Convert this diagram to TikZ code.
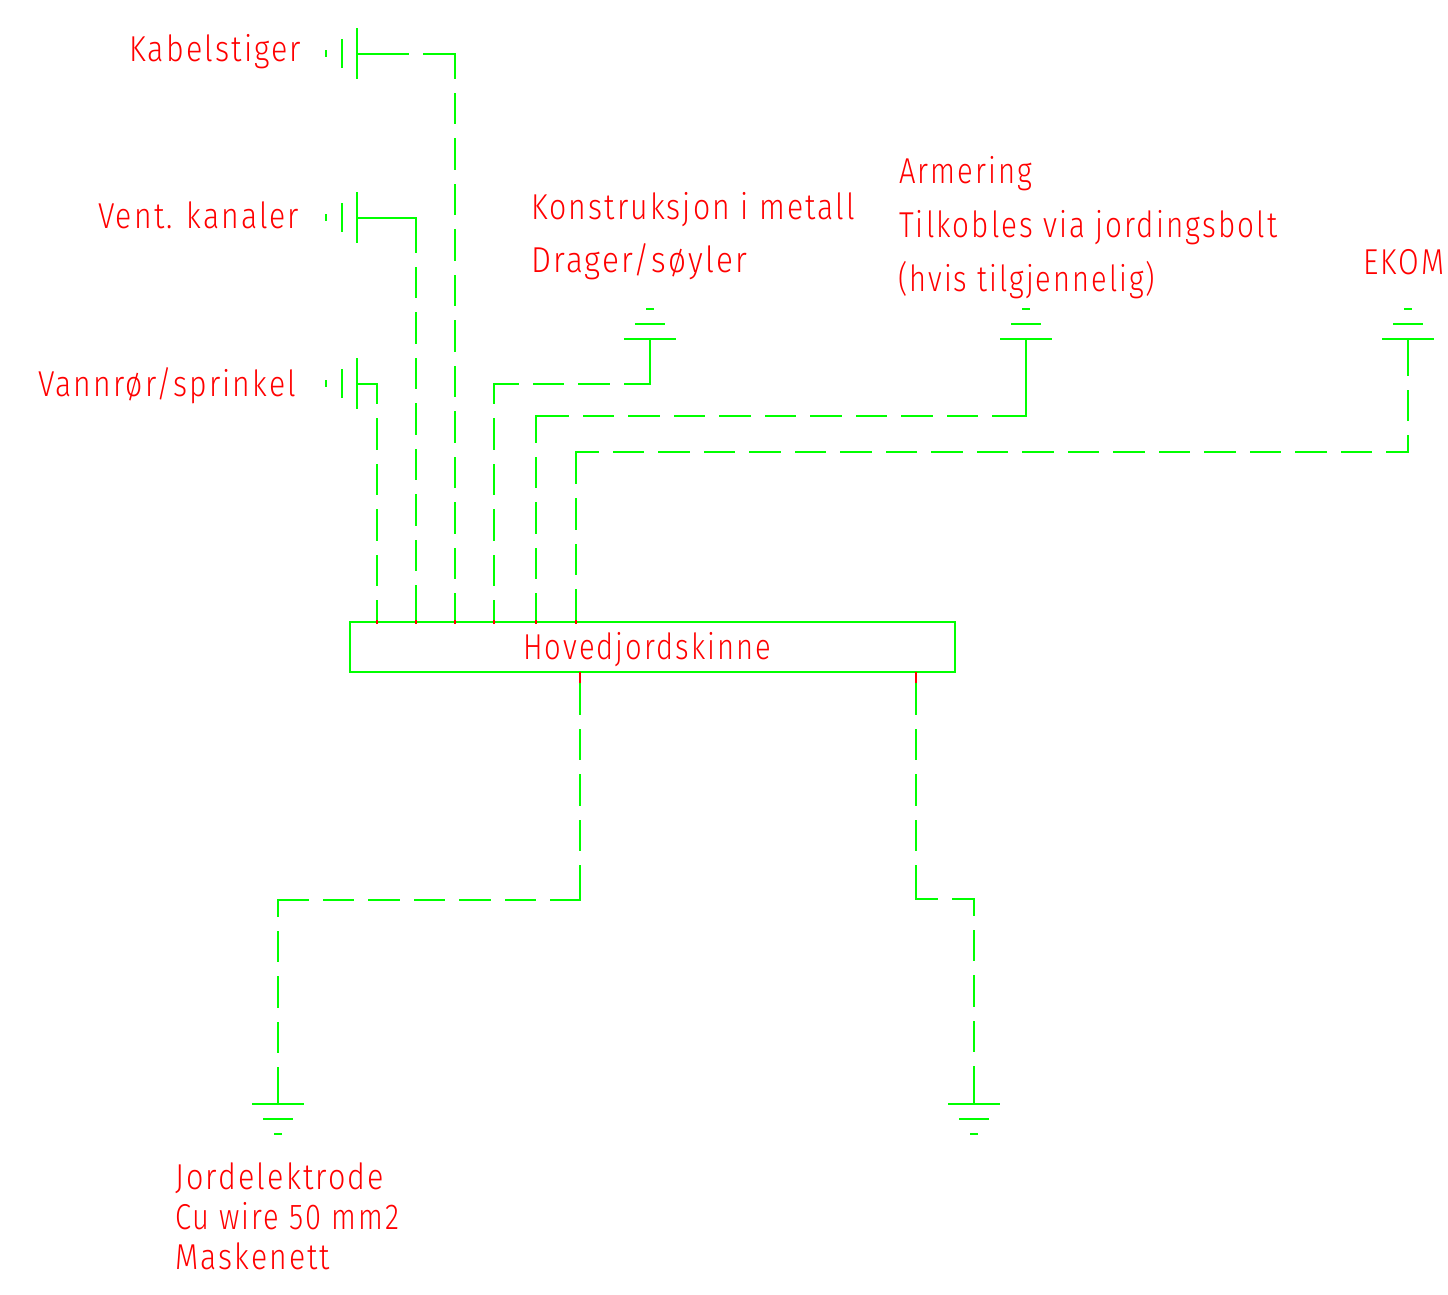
\documentclass[tikz,border=0pt]{standalone}
\usepackage{graphicx}
\usepackage{fontspec}
\setmainfont[LetterSpace=7]{Fira Sans Light}
\definecolor{cadgreen}{RGB}{0,255,0}
\definecolor{cadred}{RGB}{255,0,0}
\newcount\segn
\newcommand\seg[4]{%
  \edef\pat{on \the\dimexpr #3pt-1.25pt\relax\space off 16pt}%
  \segn=#4\relax
  \loop\ifnum\segn>0
    \edef\pat{\pat\space on 29.5pt off 16pt}%
    \advance\segn by -1
  \repeat
  \edef\pat{\pat\space on 1200pt off 1pt}%
  \edef\segcmd{\noexpand\draw[wire,dash pattern={\pat}] (#1) -- (#2);}%
  \segcmd}
\newsavebox\fitbox
\newcommand\fit[2]{\sbox\fitbox{#2}\pgfmathsetmacro\fitr{#1/\the\wd\fitbox}\scalebox{\fitr}[1]{\usebox\fitbox}}
\tikzset{
  wire/.style={draw=cadgreen,line width=2.4pt,line cap=rect},
  solidwire/.style={draw=cadgreen,line width=2.4pt,line cap=rect,line join=miter},
  sym/.style={draw=cadgreen,line width=2.4pt},
  redtick/.style={draw=cadred,line width=2.4pt},
  lbl/.style={text=cadred,inner sep=0pt,anchor=base west,font=\fontsize{36}{40}\selectfont},
  busbar/.style={draw=cadgreen,line width=2.4pt,minimum width=605pt,minimum height=50pt,inner sep=0pt}
}
\newcommand\hsym[2]{% left-hand terminal, bar at x=357, centre y=#2
  \coordinate (#1) at (357,#2);
  \draw[sym] (357,#2-26) -- (357,#2+25);
  \draw[sym] (342,#2-15) -- (342,#2+14);
  \draw[sym] (326,#2-4) -- (326,#2+3);}
\newcommand\upsym[2]{% ground pointing up, bar at y=339
  \coordinate (#1) at (#2,339);
  \draw[sym] (#2-26,339) -- (#2+26,339);
  \draw[sym] (#2-15,324) -- (#2+15,324);
  \draw[sym] (#2-4,309) -- (#2+4,309);}
\newcommand\downsym[2]{% ground pointing down, bar at y=1104
  \coordinate (#1) at (#2,1104);
  \draw[sym] (#2-26,1104) -- (#2+26,1104);
  \draw[sym] (#2-15,1119) -- (#2+15,1119);
  \draw[sym] (#2-4,1134) -- (#2+4,1134);}
\begin{document}
\begin{tikzpicture}[x=1pt,y=-1pt]
\useasboundingbox (0,0) rectangle (1448,1294);
% terminals
\hsym{tk}{54}
\hsym{tv}{218}
\hsym{tw}{384}
\upsym{tm}{650}
\upsym{ta}{1026}
\upsym{te}{1408}
\downsym{gl}{278}
\downsym{gr}{974}
% bus tap points and corners
\coordinate (b1) at (377,622); \coordinate (c1) at (377,384);
\coordinate (b2) at (416,622); \coordinate (c2) at (416,218);
\coordinate (b3) at (455,622); \coordinate (c3) at (455,54);
\coordinate (b4) at (494,622); \coordinate (c4) at (494,384); \coordinate (d4) at (650,384);
\coordinate (b5) at (536,622); \coordinate (c5) at (536,416); \coordinate (d5) at (1026,416);
\coordinate (b6) at (576,622); \coordinate (c6) at (576,452); \coordinate (d6) at (1408,452);
\coordinate (b7) at (580,672); \coordinate (c7) at (580,900); \coordinate (d7) at (278,900);
\coordinate (b8) at (916,672); \coordinate (c8) at (916,899); \coordinate (d8) at (974,899);
\coordinate (r7) at (580,683); \coordinate (r8) at (916,683);
\coordinate (u1) at (377,620); \coordinate (u2) at (416,620); \coordinate (u3) at (455,620);
\coordinate (u4) at (494,620); \coordinate (u5) at (536,620); \coordinate (u6) at (576,620);
\coordinate (v1) at (377,623.5); \coordinate (v2) at (416,623.5); \coordinate (v3) at (455,623.5);
\coordinate (v4) at (494,623.5); \coordinate (v5) at (536,623.5); \coordinate (v6) at (576,623.5);
% connectors
\seg{b1}{c1}{22}{4}
\draw[solidwire] (c1) -- (tw);
\seg{b2}{c2}{37}{7}
\draw[solidwire] (c2) -- (tv);
\seg{b3}{c3}{29}{11}
\seg{tk}{c3}{52}{0}
\seg{b4}{c4}{22}{4}
\seg{c4}{d4}{25}{2}
\draw[solidwire] (d4) -- (tm);
\seg{b5}{c5}{29}{3}
\seg{c5}{d5}{33}{9}
\draw[solidwire] (d5) -- (ta);
\seg{b6}{c6}{33}{2}
\seg{c6}{d6}{23}{17}
\seg{d6}{te}{17}{1}
\seg{b7}{c7}{43}{3}
\seg{d7}{c7}{31}{5}
\seg{d7}{gl}{17}{3}
\seg{b8}{c8}{43}{3}
\seg{c8}{d8}{22}{0}
\seg{d8}{gr}{17}{3}
% main bus
\node[busbar] (bus) at (652.5,647) {};
\node[lbl] (buslbl) at (523,659.5) {\fit{248}{Hovedjordskinne}};
% red tap marks
\draw[redtick] (u1) -- (v1);
\draw[redtick] (u2) -- (v2);
\draw[redtick] (u3) -- (v3);
\draw[redtick] (u4) -- (v4);
\draw[redtick] (u5) -- (v5);
\draw[redtick] (u6) -- (v6);
\draw[redtick] (b7) -- (r7);
\draw[redtick] (b8) -- (r8);
% labels
\node[lbl] (l1) at (129,61) {\fit{172}{Kabelstiger}};
\node[lbl] (l2) at (98,228) {\fit{201}{Vent. kanaler}};
\node[lbl] (l3) at (38,396) {\fit{258}{Vannrør/sprinkel}};
\node[lbl] (l4) at (531,219) {\fit{324}{Konstruksjon i metall}};
\node[lbl] (l5) at (531,272) {\fit{216}{Drager/søyler}};
\node[lbl] (l6) at (899,183) {\fit{133}{Armering}};
\node[lbl] (l7) at (899,237) {\fit{378}{Tilkobles via jordingsbolt}};
\node[lbl] (l8) at (898,291) {\fit{257}{(hvis tilgjennelig)}};
\node[lbl] (l9) at (1363,274) {\fit{81}{EKOM}};
\node[lbl] (l10) at (175,1189) {\fit{209}{Jordelektrode}};
\node[lbl] (l11) at (175,1229) {\fit{224}{Cu wire 50 mm2}};
\node[lbl] (l12) at (175,1269) {\fit{155}{Maskenett}};
\end{tikzpicture}
\end{document}
